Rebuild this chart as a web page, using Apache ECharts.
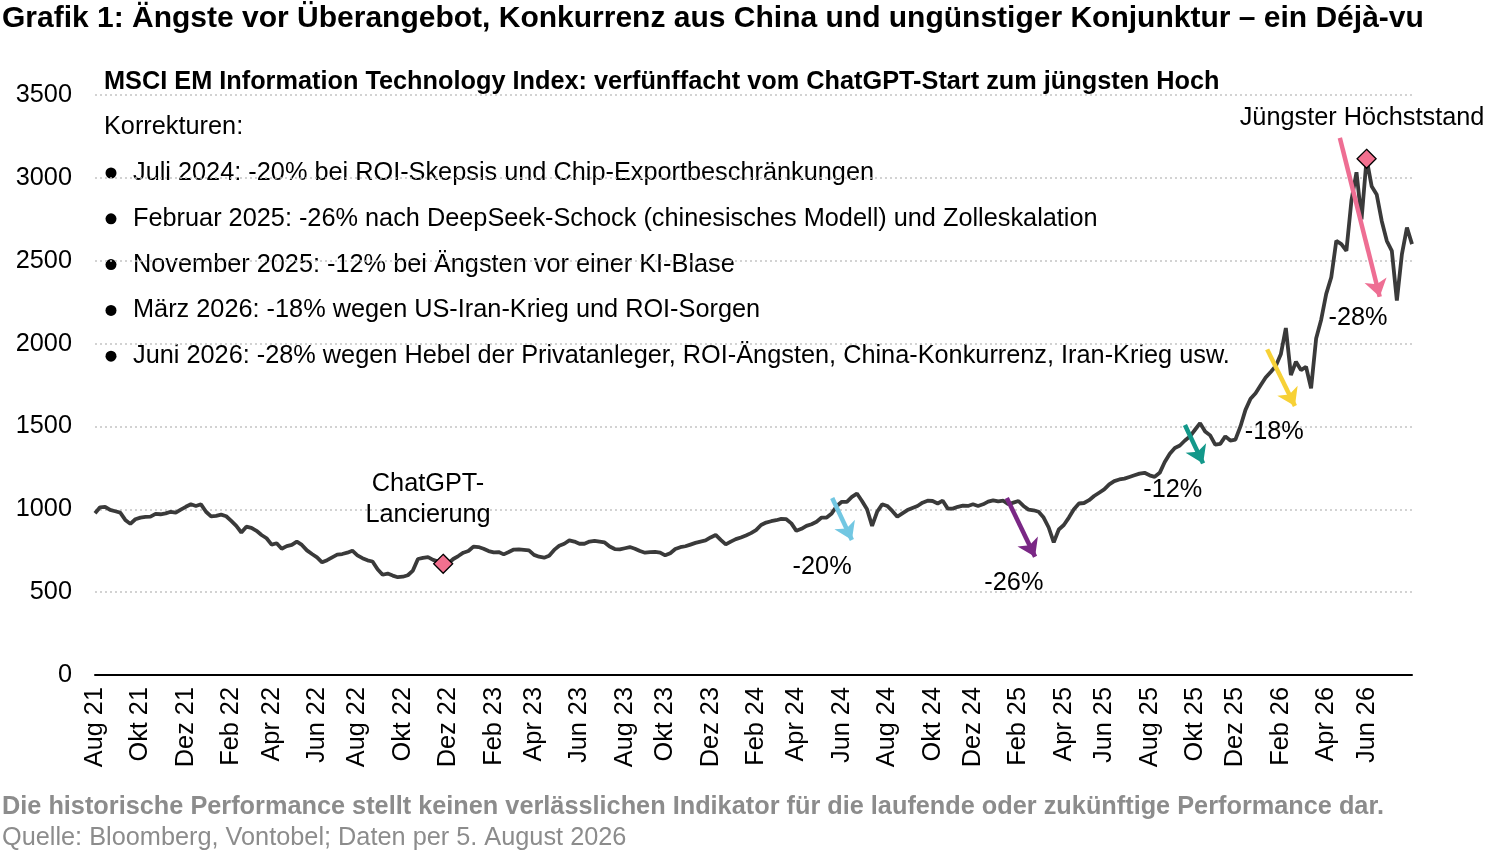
<!DOCTYPE html>
<html><head><meta charset="utf-8">
<script src="https://cdn.jsdelivr.net/npm/echarts@6/dist/echarts.min.js"></script>
<style>html,body{margin:0;padding:0;background:#fff}#c{width:1500px;height:853px}</style>
</head><body><div id="c"></div>
<script>
// ---- data ----
const startDate = '2021-08-02';   // weekly observations (Mondays)
const monthNames = ['Jan','Feb','Mär','Apr','Mai','Jun','Jul','Aug','Sep','Okt','Nov','Dez'];
const indexValues = [
 976,1012,1015,996,988,980,936,912,940,950,
 954,956,972,970,975,985,980,998,1015,1030,
 1020,1030,985,957,960,968,958,930,900,860,
 895,888,870,845,825,787,795,762,778,785,
 805,785,752,730,710,680,693,710,726,730,
 738,750,722,705,692,685,638,605,612,600,
 590,593,602,630,700,707,711,695,685,671,
 673,700,718,738,748,775,772,762,748,740,
 742,728,742,757,758,755,752,725,714,708,
 720,755,780,792,812,805,792,792,805,810,
 805,800,775,760,758,765,772,762,748,738,
 742,743,739,722,735,760,771,777,787,797,
 805,812,830,845,815,788,805,820,830,842,
 856,874,905,920,928,934,942,940,915,870,
 882,900,910,925,950,950,975,1020,1045,1045,
 1075,1095,1050,1000,900,985,1030,1020,990,955,
 975,995,1008,1020,1040,1052,1050,1035,1052,1004,
 1004,1015,1022,1020,1030,1020,1030,1046,1054,1048,
 1052,1030,1040,1050,1020,998,994,985,950,890,
 800,878,905,950,1000,1035,1038,1055,1080,1100,
 1120,1150,1170,1180,1185,1195,1205,1215,1220,1205,
 1196,1220,1285,1335,1370,1385,1415,1440,1480,1520,
 1470,1446,1390,1395,1440,1415,1420,1500,1600,1667,
 1700,1748,1795,1829,1864,1935,2094,1810,1890,1840,
 1860,1730,2030,2144,2300,2400,2620,2600,2560,2864,
 3034,2750,3115,2950,2900,2740,2620,2560,2260,2540,
 2700,2600
];
const yTicks = [0,500,1000,1500,2000,2500,3000,3500];
const lastLabel = 'Jun 26';
const highlights = [ {name:'ChatGPT-\nLancierung', idx:69}, {name:'Jüngster Höchststand', idx:252} ];
const corrections = ['-20%','-26%','-12%','-18%','-28%'];
const titleText = 'Grafik 1: Ängste vor Überangebot, Konkurrenz aus China und ungünstiger Konjunktur – ein Déjà-vu';
const subTitle = 'MSCI EM Information Technology Index: verfünffacht vom ChatGPT-Start zum jüngsten Hoch';
const bullets = [
 'Juli 2024: -20% bei ROI-Skepsis und Chip-Exportbeschränkungen',
 'Februar 2025: -26% nach DeepSeek-Schock (chinesisches Modell) und Zolleskalation',
 'November 2025: -12% bei Ängsten vor einer KI-Blase',
 'März 2026: -18% wegen US-Iran-Krieg und ROI-Sorgen',
 'Juni 2026: -28% wegen Hebel der Privatanleger, ROI-Ängsten, China-Konkurrenz, Iran-Krieg usw.'
];
const footNote = 'Die historische Performance stellt keinen verlässlichen Indikator für die laufende oder zukünftige Performance dar.';
const sourceNote = 'Quelle: Bloomberg, Vontobel; Daten per 5. August 2026';

// ---- annotation placement (data coordinates: [week index, index level]) ----
const arrowCfg = [
 {color:'#72C7E2', from:[146.1,1068], to:[150.0,815],  text:[144.1,651]},
 {color:'#7A2785', from:[180.7,1068], to:[186.3,713],  text:[182.1,555]},
 {color:'#13988A', from:[216.0,1509], to:[219.6,1277], text:[213.6,1116]},
 {color:'#F7D136', from:[232.3,1965], to:[237.8,1623], text:[233.7,1466]},
 {color:'#EE6E93', from:[246.7,3241], to:[254.6,2283], text:[250.3,2154]}
];
const highlightLabelPos = [[66.0,1056],[251.1,3361]];

// ---- derived ----
const FONT = '"Liberation Sans", Arial, Helvetica, sans-serif';
const FS = 25.3;
const t0 = Date.parse(startDate + 'T00:00:00Z');
const dates = indexValues.map((_, i) => new Date(t0 + i * 7 * 86400000));
const catLabels = dates.map(d => monthNames[d.getUTCMonth()] + ' ' + String(d.getUTCFullYear()).slice(2));
const labelIdx = [];
for (let i = 0; i < dates.length; i++) {
  const d = dates[i];
  if (d.getUTCDate() <= 7 && ((d.getUTCMonth() - 7 + 12) % 2 === 0)) labelIdx.push(i);
  if (catLabels[i] === lastLabel && d.getUTCDate() <= 7) break;
}
const seriesData = indexValues.map((v, i) => [i, v]);

const markPts = [];
highlights.forEach((h, k) => {
  markPts.push({coord:[h.idx, indexValues[h.idx]], symbol:'diamond', symbolSize:19,
    itemStyle:{color:'#F2708F', borderColor:'#000', borderWidth:1.3}, label:{show:false}});
  markPts.push({coord:highlightLabelPos[k], symbol:'circle', symbolSize:1, itemStyle:{color:'rgba(0,0,0,0)'},
    label:{show:true, position:'inside', formatter:h.name,
      fontSize:FS, lineHeight:31, color:'#000', fontFamily:FONT, align:'center'}});
});
corrections.forEach((c, k) => {
  markPts.push({coord:arrowCfg[k].text, symbol:'circle', symbolSize:1, itemStyle:{color:'rgba(0,0,0,0)'},
    label:{show:true, position:'inside', formatter:c, fontSize:FS, color:'#000', fontFamily:FONT}});
});

const markLines = arrowCfg.map(a => [
  {coord:a.from, lineStyle:{color:a.color, width:4.5, type:'solid'}, itemStyle:{color:a.color}},
  {coord:a.to}
]);

const graphics = [
  {type:'text', x:2, y:19, style:{text:titleText, font:'bold 30px ' + FONT, fill:'#000', verticalAlign:'middle'}},
  {type:'text', x:104, y:82, style:{text:subTitle, font:'bold ' + FS + 'px ' + FONT, fill:'#000', verticalAlign:'middle'}},
  {type:'text', x:104, y:127, style:{text:'Korrekturen:', font:FS + 'px ' + FONT, fill:'#000', verticalAlign:'middle'}},
  {type:'text', x:2, y:807, style:{text:footNote, font:'bold ' + FS + 'px ' + FONT, fill:'#8C8C8C', verticalAlign:'middle'}},
  {type:'text', x:2, y:838, style:{text:sourceNote, font:FS + 'px ' + FONT, fill:'#8C8C8C', verticalAlign:'middle'}}
];
bullets.forEach((b, k) => {
  const y = 173 + k * 45.8;
  graphics.push({type:'circle', shape:{cx:111, cy:y, r:5.5}, style:{fill:'#000'}});
  graphics.push({type:'text', x:133, y:y, style:{text:b, font:FS + 'px ' + FONT, fill:'#000', verticalAlign:'middle'}});
});

const chart = echarts.init(document.getElementById('c'), null, {renderer:'canvas'});
chart.setOption({
  animation:false,
  backgroundColor:'#fff',
  grid:{left:95, right:88, top:95, bottom:178, containLabel:false},
  xAxis:{type:'value', min:0, max:indexValues.length - 1,
    axisLine:{show:true, lineStyle:{color:'#000', width:2}},
    axisTick:{show:false}, splitLine:{show:false},
    axisLabel:{customValues:labelIdx, formatter:v => catLabels[Math.round(v)], rotate:90,
      fontSize:FS, color:'#000', fontFamily:FONT, margin:12, showMinLabel:true, padding:[0,0,0,0], lineHeight:33}},
  yAxis:{type:'value', min:yTicks[0], max:yTicks[yTicks.length-1], interval:500,
    axisLine:{show:false}, axisTick:{show:false},
    axisLabel:{fontSize:FS, color:'#000', fontFamily:FONT, margin:23, formatter:v => String(v)}},
  series:[{
    type:'line', data:seriesData, showSymbol:false, symbol:'none',
    lineStyle:{color:'#3A3A3A', width:3.8}, z:3,
    markLine:{silent:true, symbol:['none','arrow'], symbolSize:17, label:{show:false}, animation:false, data:markLines, z:5},
    markPoint:{silent:true, animation:false, data:markPts, z:6}
  }],
  graphic:graphics
});
chart.setOption({yAxis:{splitLine:{show:true, lineStyle:{color:'#C4C4C4', type:[2,3], width:1.5}}}});
</script></body></html>
